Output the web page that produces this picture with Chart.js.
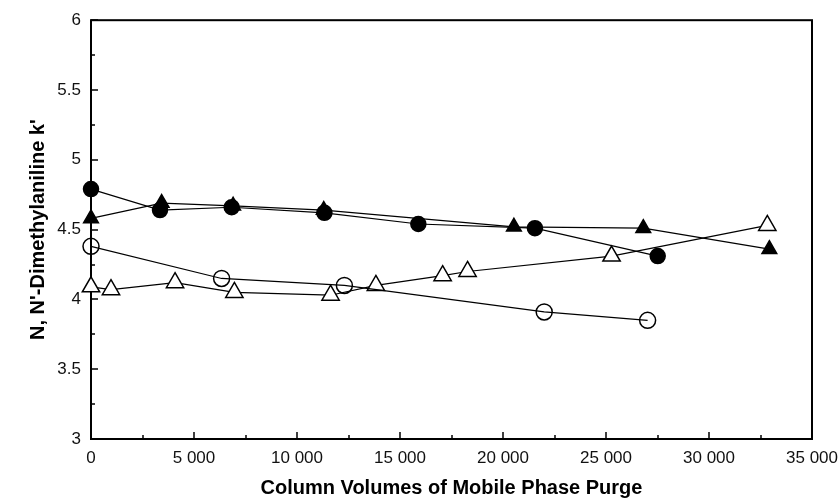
<!DOCTYPE html>
<html>
<head>
<meta charset="utf-8">
<script src="https://cdn.jsdelivr.net/npm/chart.js@4/dist/chart.umd.min.js"></script>
<style>
  html, body { margin: 0; padding: 0; background: #fff; }
  #wrap { width: 839px; height: 500px; position: relative; }
</style>
</head>
<body>
<div id="wrap"><canvas id="chart"></canvas></div>
<script>
// purge volumes (column volumes) and k' values
const filledCircleX = [0, 3350, 6830, 11330, 15890, 21550, 27510];
const filledCircleY = [4.79, 4.64, 4.66, 4.62, 4.54, 4.51, 4.31];

const filledTriangleX = [0, 3430, 6900, 11300, 20530, 26810, 32930];
const filledTriangleY = [4.58, 4.69, 4.67, 4.64, 4.52, 4.51, 4.36];

const openCircleX = [0, 6340, 12300, 22000, 27020];
const openCircleY = [4.38, 4.15, 4.10, 3.91, 3.85];

const openTriangleX = [0, 970, 4080, 6960, 11630, 13830, 17070, 18280, 25270, 32830];
const openTriangleY = [4.09, 4.07, 4.12, 4.05, 4.03, 4.10, 4.17, 4.20, 4.31, 4.53];

const xTicks = [0, 5000, 10000, 15000, 20000, 25000, 30000, 35000];
const yTicks = [3, 3.5, 4, 4.5, 5, 5.5, 6];

const xTitle = 'Column Volumes of Mobile Phase Purge';
const yTitle = "N, N'-Dimethylaniline k'";

function toPoints(xs, ys) {
    return xs.map((x, i) => ({ x: x, y: ys[i] }));
}

function fmtThousands(v) {
    return String(v).replace(/\B(?=(\d{3})+(?!\d))/g, ' ');
}

// frame + inward ticks, like the original plot
const framePlugin = {
    id: 'frame',
    beforeDatasetsDraw(chart) {
        const ctx = chart.ctx;
        const a = chart.chartArea;
        const xs = chart.scales.x;
        const ys = chart.scales.y;
        ctx.save();
        ctx.strokeStyle = '#000';
        ctx.lineWidth = 2;
        ctx.strokeRect(a.left, a.top, a.right - a.left, a.bottom - a.top);
        ctx.lineWidth = 1.5;
        ctx.beginPath();
        for (let v = 0; v <= 35000; v += 2500) {
            const px = Math.round(xs.getPixelForValue(v));
            const len = v % 5000 === 0 ? 7 : 4;
            ctx.moveTo(px, a.bottom);
            ctx.lineTo(px, a.bottom - len);
        }
        for (let i = 0; i <= 12; i++) {
            const v = 3 + i * 0.25;
            const py = Math.round(ys.getPixelForValue(v));
            const len = i % 2 === 0 ? 7 : 4;
            ctx.moveTo(a.left, py);
            ctx.lineTo(a.left + len, py);
        }
        ctx.stroke();
        ctx.restore();
    }
};

const common = {
    showLine: true,
    clip: false,
    borderColor: '#000',
    borderWidth: 1.2,
    pointBorderColor: '#000',
    pointBorderWidth: 1.5,
    tension: 0
};

const tickFont = { family: 'Liberation Sans, Arial, sans-serif', size: 17 };
const titleFont = { family: 'Liberation Sans, Arial, sans-serif', size: 20, weight: 'bold' };

new Chart(document.getElementById('chart'), {
    type: 'scatter',
    data: {
        datasets: [
            Object.assign({}, common, {
                label: 'open circles',
                data: toPoints(openCircleX, openCircleY),
                pointStyle: 'circle',
                pointRadius: 8,
                pointBackgroundColor: 'rgba(255,255,255,0)'
            }),
            Object.assign({}, common, {
                label: 'open triangles',
                data: toPoints(openTriangleX, openTriangleY),
                pointStyle: 'triangle',
                pointRadius: 10,
                pointBackgroundColor: '#fff'
            }),
            Object.assign({}, common, {
                label: 'filled triangles',
                data: toPoints(filledTriangleX, filledTriangleY),
                pointStyle: 'triangle',
                pointRadius: 8.5,
                pointBackgroundColor: '#000'
            }),
            Object.assign({}, common, {
                label: 'filled circles',
                data: toPoints(filledCircleX, filledCircleY),
                pointStyle: 'circle',
                pointRadius: 7.5,
                pointBackgroundColor: '#000'
            })
        ]
    },
    options: {
        responsive: true,
        maintainAspectRatio: false,
        animation: false,
        layout: { padding: { top: 19, right: 0, left: 0, bottom: 0 } },
        plugins: {
            legend: { display: false },
            tooltip: { enabled: false }
        },
        scales: {
            x: {
                type: 'linear',
                min: 0,
                max: 35000,
                afterBuildTicks: s => { s.ticks = xTicks.map(v => ({ value: v })); },
                afterFit: s => { s.height = 61; s.paddingRight = 27; },
                grid: { display: false, drawTicks: false },
                border: { display: false },
                ticks: {
                    color: '#111',
                    padding: 9,
                    maxRotation: 0,
                    font: tickFont,
                    callback: v => fmtThousands(v)
                },
                title: {
                    display: true,
                    text: xTitle,
                    color: '#000',
                    padding: { top: 2, bottom: 0 },
                    font: titleFont
                }
            },
            y: {
                type: 'linear',
                min: 3,
                max: 6,
                afterBuildTicks: s => { s.ticks = yTicks.map(v => ({ value: v })); },
                afterFit: s => { s.width = 91; },
                grid: { display: false, drawTicks: false },
                border: { display: false },
                ticks: {
                    color: '#111',
                    padding: 10,
                    font: tickFont,
                    callback: v => String(v)
                },
                title: {
                    display: true,
                    text: yTitle,
                    color: '#000',
                    padding: { top: 26, bottom: 0 },
                    font: titleFont
                }
            }
        }
    },
    plugins: [framePlugin]
});
</script>
</body>
</html>
